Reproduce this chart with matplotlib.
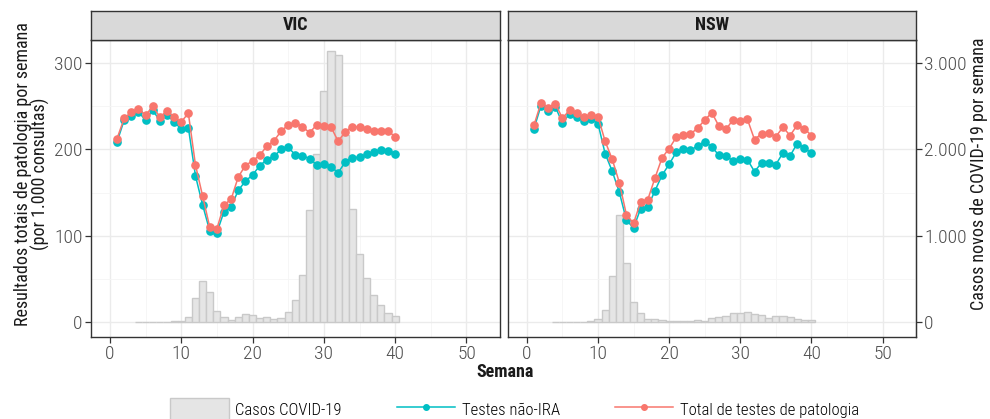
import matplotlib
matplotlib.use("Agg")
import matplotlib.pyplot as plt
from matplotlib.patches import Patch
from matplotlib.lines import Line2D
import numpy as np

FONTS = ['Roboto Condensed', 'Barlow Semi Condensed', 'DejaVu Sans']
plt.rcParams['font.family'] = FONTS
plt.rcParams['font.weight'] = 'light'

weeks = list(range(1, 41))
case_weeks = list(range(4, 41))

vic_total = [212.7, 236, 243, 247.5, 239.7, 250, 237.8, 244.4, 237.8, 232, 242, 182, 146, 110, 108,
             135.7, 142.3, 168.2, 181.4, 186.8, 193.3, 203.8, 210, 221.2, 228.5, 231.2, 226.2, 219.6,
             228.5, 227, 226.2, 209.6, 220.4, 226.6, 225.8, 223.9, 221.2, 221.2, 221.2, 215]
vic_nonira = [208.8, 234, 239, 243.6, 234, 245.5, 233.6, 239.7, 232.3, 223.5, 225.4, 169.4, 135.7,
              105.6, 103.6, 128, 133.4, 152.7, 163.2, 170.5, 181, 188.3, 192, 200, 202.6, 193.7,
              192.6, 189.5, 182.1, 183.7, 180.2, 172.9, 185.6, 190.6, 191, 194.5, 196.8, 199.1,
              198.4, 195.3]
vic_cases = [1, 2, 2, 3, 3, 5, 8, 55, 281, 477, 348, 121, 59, 23, 62, 86, 78, 43, 59, 39, 51, 113,
             258, 543, 1300, 1950, 2680, 3140, 3100, 2170, 1305, 789, 512, 313, 195, 98, 66]

nsw_total = [228.2, 254.4, 248.6, 253.3, 236.3, 245.5, 242.5, 237.8, 240.1, 238.2, 209.6, 188.7,
             161.6, 124.1, 114.5, 139.2, 141.9, 166.7, 190.3, 201.1, 214.2, 217.3, 217.7, 225, 234,
             242.8, 227, 223.5, 234.7, 233.6, 235.1, 211.5, 218.5, 218.9, 215, 225.8, 216.2, 228.2,
             224.3, 216.2]
nsw_nonira = [224.3, 251, 245.2, 249.4, 230.9, 241.3, 238.2, 233.6, 235.1, 230.1, 195.3, 174.8,
              150.4, 117.9, 109, 131.5, 133.4, 152, 170.1, 182.9, 196.8, 200.7, 199.1, 204.2, 209.2,
              203, 193.3, 193, 186.4, 189.1, 188.3, 174.4, 184.5, 184.5, 182.5, 196.1, 192.6, 206.9,
              201.9, 195.7]
nsw_cases = [2, 2, 3, 3, 4, 5, 35, 133, 527, 1240, 680, 230, 109, 39, 39, 20, 14, 12, 12, 16, 27,
             16, 43, 59, 70, 98, 98, 113, 86, 82, 43, 70, 70, 55, 35, 20, 20]

panels = ["VIC", "NSW"]
x_ticks = [0, 10, 20, 30, 40, 50]
y_ticks = [0, 100, 200, 300]
sec_ticks = [0, 1000, 2000, 3000]
sec_labels = ["0", "1.000", "2.000", "3.000"]

RED = "#F8766D"
CYAN = "#00BFC4"
TICKCOL = "#4D4D4D"
BARFILL = "#E5E5E5"
BAREDGE = "#C9C9C9"

W, H = 990, 419
fig = plt.figure(figsize=(W / 100, H / 100), dpi=100)

panel_px = [(91, 500), (508, 916)]
top_px, bot_px = 40, 337
strip_top = 11

data = {"VIC": (vic_total, vic_nonira, vic_cases), "NSW": (nsw_total, nsw_nonira, nsw_cases)}

axes = []
for i, name in enumerate(panels):
    l, r = panel_px[i]
    ax = fig.add_axes([l / W, 1 - bot_px / H, (r - l) / W, (bot_px - top_px) / H])
    axes.append(ax)
    tot, non, cases = data[name]
    ax.bar(case_weeks, np.array(cases) / 10.0, width=1.0, color=BARFILL,
           edgecolor=BAREDGE, linewidth=1.0, zorder=2)
    ax.plot(weeks, non, color=CYAN, lw=1.1, marker="o", ms=5.2, zorder=3)
    ax.plot(weeks, tot, color=RED, lw=1.1, marker="o", ms=5.2, zorder=4)
    ax.set_xlim(-2.65, 54.7)
    ax.set_ylim(-17.5, 327)
    ax.set_xticks(x_ticks)
    ax.set_xticks([5, 15, 25, 35, 45], minor=True)
    ax.set_yticks(y_ticks)
    ax.set_yticks([50, 150, 250], minor=True)
    ax.grid(True, which="major", color="#EBEBEB", lw=1.0, zorder=0)
    ax.grid(True, which="minor", color="#F5F5F5", lw=0.6, zorder=0)
    ax.set_axisbelow(True)
    ax.tick_params(which="minor", length=0)
    ax.tick_params(which="major", length=4, width=0.9, color="#333333",
                   labelsize=14, labelcolor=TICKCOL, pad=2)
    for sp in ax.spines.values():
        sp.set_color("#333333")
        sp.set_linewidth(1.0)
    ax.set_xticklabels([str(t) for t in x_ticks])
    if i == 0:
        ax.set_yticklabels([str(t) for t in y_ticks])
    else:
        ax.tick_params(axis="y", left=False, labelleft=False)
        sec = ax.secondary_yaxis("right", functions=(lambda v: v * 10, lambda v: v / 10))
        sec.set_yticks(sec_ticks)
        sec.set_yticklabels(sec_labels)
        sec.tick_params(length=4, width=0.9, color="#333333", labelsize=14,
                        labelcolor=TICKCOL, pad=2)
        sec.spines["right"].set_color("#333333")
    # strip
    sax = fig.add_axes([l / W, 1 - top_px / H, (r - l) / W, (top_px - strip_top) / H])
    sax.set_facecolor("#D9D9D9")
    sax.set_xticks([])
    sax.set_yticks([])
    for sp in sax.spines.values():
        sp.set_color("#333333")
        sp.set_linewidth(1.0)
    sax.text(0.5, 0.5, name, ha="center", va="center", fontsize=13, fontweight="bold",
             color="#1A1A1A", transform=sax.transAxes)

mid_y = 1 - ((strip_top + bot_px) / 2) / H
fig.text(32 / W, mid_y, "Resultados totais de patologia por semana\n(por 1.000 consultas)",
         rotation=90, ha="center", va="center", fontsize=13, linespacing=0.95,
         fontweight="normal", color="#1A1A1A")
fig.text(979 / W, mid_y, "Casos novos de COVID-19 por semana", rotation=90,
         ha="center", va="center", fontsize=13, fontweight="normal", color="#1A1A1A")
fig.text(505 / W, 1 - 372 / H, "Semana", ha="center", va="center", fontsize=13,
         fontweight="bold", color="#1A1A1A")

handles = [Patch(facecolor=BARFILL, edgecolor=BAREDGE, label="Casos COVID-19"),
           Line2D([], [], color=CYAN, marker="o", ms=4, lw=1.1, label="Testes não-IRA"),
           Line2D([], [], color=RED, marker="o", ms=4, lw=1.1, label="Total de testes de patologia")]
fig.legend(handles=handles, loc="center", bbox_to_anchor=(0.520, 1 - 410 / H), ncol=3,
           frameon=False, fontsize=12, handlelength=3.5, handleheight=1.9, columnspacing=3.3,
           handletextpad=0.4, borderpad=0, borderaxespad=0)

fig.savefig("out.png", dpi=100)
